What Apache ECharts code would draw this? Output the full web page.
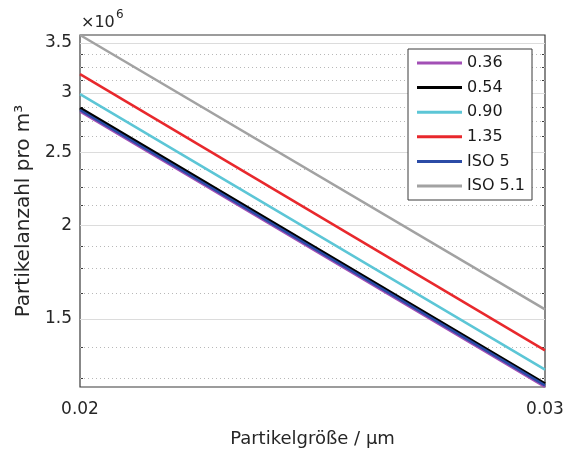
<!DOCTYPE html>
<html>
<head>
<meta charset="utf-8">
<script src="https://cdn.jsdelivr.net/npm/echarts@6/dist/echarts.min.js"></script>
<style>
  html, body { margin: 0; padding: 0; background: #ffffff; }
  #chart { width: 568px; height: 450px; }
</style>
</head>
<body>
<div id="chart"></div>
<script>
// Particle size (µm) at the two ends of each line
const sizes = [0.02, 0.03];

// Particle count per m³ at 0.02 µm and 0.03 µm
const v036 = [2.835e6, 1.2175e6];
const v054 = [2.865e6, 1.230e6];
const v090 = [2.990e6, 1.284e6];
const v135 = [3.180e6, 1.3625e6];
const vIso5 = [2.848e6, 1.2236e6];
const vIso51 = [3.585e6, 1.545e6];

const seriesNames = ['0.36', '0.54', '0.90', '1.35', 'ISO 5', 'ISO 5.1'];
const seriesValues = [v036, v054, v090, v135, vIso5, vIso51];
const seriesColors = ['#a24fb5', '#000000', '#5cc6d6', '#e8282c', '#2b4ba6', '#a2a2a2'];
const seriesWidths = [2.5, 3, 2.5, 2.5, 2.5, 2.5];

// Axis ticks
const xTicks = [0.02, 0.03];
const yMajorTicks = [1.5e6, 2e6, 2.5e6, 3e6, 3.5e6];
const yMinorTicks = [1.25e6, 1.375e6, 1.625e6, 1.75e6, 1.875e6, 2.125e6, 2.25e6, 2.375e6,
                     2.625e6, 2.75e6, 2.875e6, 3.125e6, 3.25e6, 3.375e6];
const yMin = 1.2175e6;
const yMax = 3.585e6;

const FONT = '"DejaVu Sans", "Liberation Sans", Arial, sans-serif';
const TEXT = '#262626';
const chart = echarts.init(document.getElementById('chart'), null, { renderer: 'canvas' });

function yLog(position, ticks, tickLen, withLabels, extra) {
  return Object.assign({
    type: 'log',
    min: yMin,
    max: yMax,
    position: position,
    axisLine: { show: false },
    splitLine: { show: false },
    minorTick: { show: false },
    axisTick: {
      show: true, inside: true, length: tickLen, customValues: ticks,
      lineStyle: { color: '#3a3a3a', width: 1 }
    },
    axisLabel: withLabels ? {
      show: true, customValues: ticks, margin: 8,
      fontFamily: FONT, fontSize: 17, color: TEXT,
      formatter: v => String(+(v / 1e6).toFixed(2))
    } : { show: false }
  }, extra || {});
}

const series = seriesNames.map((name, i) => ({
  name: name,
  type: 'line',
  xAxisIndex: 0,
  yAxisIndex: 0,
  data: sizes.map((s, k) => [s, seriesValues[i][k]]),
  symbol: 'none',
  showSymbol: false,
  silent: true,
  z: 3,
  color: seriesColors[i],
  lineStyle: { color: seriesColors[i], width: seriesWidths[i] }
}));

// Grid lines drawn underneath the data lines
series[0].markLine = {
  silent: true,
  symbol: 'none',
  z: 1,
  animation: false,
  label: { show: false },
  data: yMajorTicks.map(v => ({ yAxis: v, lineStyle: { color: '#dcdcdc', width: 1, type: 'solid' } }))
    .concat(yMinorTicks.map(v => ({ yAxis: v, lineStyle: { color: '#b8b8b8', width: 1, type: [1, 3] } })))
};

chart.setOption({
  animation: false,
  backgroundColor: '#ffffff',
  grid: {
    left: 80, right: 23, top: 35, bottom: 63,
    outerBoundsMode: 'none',
    containLabel: false,
    show: true, borderColor: '#3a3a3a', borderWidth: 1.2, backgroundColor: '#ffffff'
  },
  xAxis: [{
    type: 'log',
    min: 0.02,
    max: 0.03,
    axisLine: { show: false },
    axisTick: { show: false },
    splitLine: { show: false },
    minorTick: { show: false },
    axisLabel: {
      customValues: xTicks, margin: 14,
      fontFamily: FONT, fontSize: 17, color: TEXT,
      formatter: v => v.toFixed(2)
    },
    name: 'Partikelgröße / µm',
    nameLocation: 'middle',
    nameGap: 43,
    nameTextStyle: { fontFamily: FONT, fontSize: 18, color: TEXT }
  }],
  yAxis: [
    yLog('left', yMajorTicks, 5, true, {
      name: 'Partikelanzahl pro m³',
      nameLocation: 'middle',
      nameGap: 41,
      nameTextStyle: { fontFamily: FONT, fontSize: 20, color: TEXT }
    }),
    yLog('right', yMajorTicks, 5, false),
    yLog('left', yMinorTicks, 3, false),
    yLog('right', yMinorTicks, 3, false)
  ],
  legend: {
    data: seriesNames.map(n => ({ name: n, icon: 'rect' })),
    orient: 'vertical',
    left: 408,
    top: 49,
    itemWidth: 45,
    itemHeight: 3,
    itemGap: 8.6,
    padding: [6, 7, 6, 9],
    backgroundColor: '#ffffff',
    borderColor: '#3a3a3a',
    borderWidth: 1,
    selectedMode: false,
    textStyle: { fontFamily: FONT, fontSize: 16, lineHeight: 14, color: '#1a1a1a' }
  },
  graphic: [
    { type: 'text', left: 81, top: 15, silent: true,
      style: { text: '×10', fontFamily: FONT, fontSize: 16, fill: TEXT } },
    { type: 'text', left: 116, top: 9, silent: true,
      style: { text: '6', fontFamily: FONT, fontSize: 12, fill: TEXT } }
  ],
  series: series
});
</script>
</body>
</html>
